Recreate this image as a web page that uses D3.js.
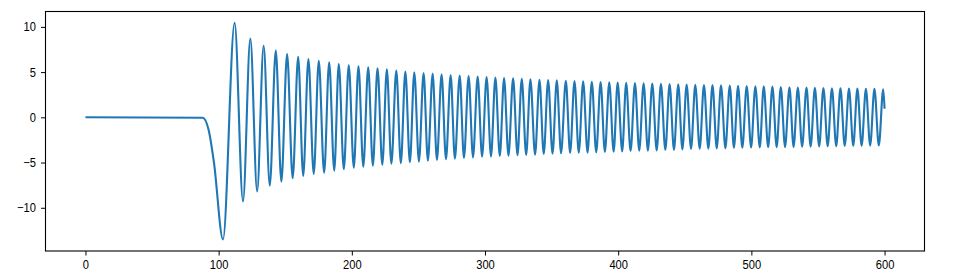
<!DOCTYPE html>
<html>
<head>
<meta charset="utf-8">
<script src="https://cdn.jsdelivr.net/npm/d3@7"></script>
<style>
  body { margin: 0; background: #fff; }
  .tick text { font-family: "Liberation Sans Narrow", "Liberation Sans", sans-serif; font-size: 12.6px; fill: #000; }
</style>
</head>
<body>
<div id="chart"></div>
<script>
  // quiet start and the first dip (x, value)
  var leadX = [0, 88, 92.5, 96.5];
  var leadY = [0, -0.05, -1.4, -5.0];

  // turning points of the oscillation, trough / peak alternating
  var swingX = [103.3, 112.0, 118.3, 123.8, 128.9, 133.8, 138.4, 142.9, 147.1, 151.4,
    155.6, 159.7, 163.5, 167.4, 171.4, 175.2, 179.2, 183.0, 186.8, 190.2,
    194.0, 197.7, 201.5, 205.0, 208.6, 212.3, 215.8, 219.3, 222.9, 226.3,
    229.7, 233.4, 236.8, 240.2, 243.6, 246.9, 250.4, 253.9, 257.1, 260.7,
    263.9, 267.4, 270.7, 274.2, 277.4, 281.0, 284.2, 287.7, 291.0, 294.5,
    297.8, 301.2, 304.5, 307.8, 311.1, 314.3, 317.6, 321.1, 324.4, 327.6,
    330.9, 334.1, 337.6, 340.9, 344.1, 347.4, 350.7, 353.9, 357.1, 360.7,
    363.9, 367.2, 370.4, 373.7, 377.0, 380.2, 383.5, 386.8, 390.0, 393.3,
    396.6, 399.6, 403.0, 406.0, 409.3, 412.6, 415.8, 419.1, 422.3, 425.6,
    428.9, 432.1, 435.4, 438.6, 441.9, 445.1, 448.2, 451.4, 454.7, 457.9,
    461.2, 464.4, 467.7, 470.8, 474.0, 477.2, 480.5, 483.8, 486.9, 490.0,
    493.2, 496.5, 499.8, 503.0, 506.3, 509.3, 512.6, 515.8, 519.0, 522.1,
    525.3, 528.6, 531.7, 534.9, 538.1, 541.4, 544.5, 547.7, 550.9, 554.1,
    557.3, 560.5, 563.7, 566.9, 570.1, 573.3, 576.5, 579.6, 582.8, 586.0,
    589.2, 592.4, 595.7, 599.0];
  var swingY = [-13.5, 10.45, -9.3, 8.72, -8.2, 7.92, -7.55, 7.37, -7.1, 6.99,
    -6.74, 6.7, -6.48, 6.45, -6.26, 6.26, -6.12, 6.08, -5.9, 5.9,
    -5.72, 5.75, -5.57, 5.64, -5.46, 5.53, -5.35, 5.42, -5.24, 5.31,
    -5.14, 5.17, -5.08, 5.06, -4.98, 4.98, -4.9, 4.9, -4.8, 4.83,
    -4.72, 4.75, -4.64, 4.68, -4.57, 4.63, -4.5, 4.57, -4.43, 4.5,
    -4.36, 4.44, -4.33, 4.39, -4.28, 4.35, -4.24, 4.31, -4.2, 4.25,
    -4.16, 4.2, -4.12, 4.16, -4.06, 4.13, -4.02, 4.09, -3.98, 4.05,
    -3.94, 4.02, -3.91, 3.98, -3.9, 3.94, -3.87, 3.91, -3.83, 3.87,
    -3.8, 3.84, -3.76, 3.81, -3.73, 3.79, -3.7, 3.76, -3.68, 3.73,
    -3.65, 3.71, -3.62, 3.68, -3.6, 3.65, -3.55, 3.63, -3.51, 3.6,
    -3.48, 3.58, -3.46, 3.56, -3.43, 3.53, -3.41, 3.5, -3.39, 3.48,
    -3.36, 3.46, -3.33, 3.44, -3.32, 3.42, -3.31, 3.39, -3.3, 3.34,
    -3.29, 3.32, -3.28, 3.3, -3.26, 3.28, -3.24, 3.26, -3.22, 3.24,
    -3.2, 3.22, -3.18, 3.2, -3.17, 3.18, -3.15, 3.17, -3.14, 3.15,
    -3.13, 3.14, -3.11, 3.1];

  // last sample
  var tailX = [600];
  var tailY = [0.95];

  var xTicks = [0, 100, 200, 300, 400, 500, 600];
  var yTicks = [-10, -5, 0, 5, 10];

  // join everything into one list of points
  var allX = leadX.concat(swingX, tailX);
  var allY = leadY.concat(swingY, tailY);
  var points = allX.map(function(x, i) { return { x: x, y: allY[i] }; });

  // canvas and plot box
  var width = 970;
  var height = 280;
  var margin = { top: 11.5, right: 45.5, bottom: 29, left: 45.5 };
  var w = width - margin.left - margin.right;
  var h = height - margin.top - margin.bottom;

  var svg = d3.select('#chart')
    .append('svg')
    .attr('width', width)
    .attr('height', height);

  var g = svg.append('g')
    .attr('transform', 'translate(' + margin.left + ',' + margin.top + ')');

  // matplotlib style limits, 5% padding
  var x = d3.scaleLinear().domain([-30, 630]).range([0, w]);
  var y = d3.scaleLinear().domain([-14.78, 11.7]).range([h, 0]);

  var line = d3.line()
    .x(function(d) { return x(d.x); })
    .y(function(d) { return y(d.y); })
    .curve(d3.curveMonotoneX);

  g.append('path')
    .datum(points)
    .attr('fill', 'none')
    .attr('stroke', '#1f77b4')
    .attr('stroke-width', 2.1)
    .attr('stroke-linejoin', 'round')
    .attr('d', line);

  // axes
  var xAxis = g.append('g')
    .attr('transform', 'translate(0,' + h + ')')
    .call(d3.axisBottom(x).tickValues(xTicks).tickSize(4.5).tickPadding(5).tickFormat(d3.format('d')));

  var yAxis = g.append('g')
    .call(d3.axisLeft(y).tickValues(yTicks).tickSize(4.5).tickPadding(5).tickFormat(function(d) {
      return d < 0 ? '\u2212' + Math.abs(d) : d;
    }));

  [xAxis, yAxis].forEach(function(a) {
    a.select('.domain').remove();
    a.selectAll('.tick line').attr('stroke', '#000').attr('stroke-width', 1);
  });

  // squeeze the labels a bit, the original font is a narrow one
  var squeeze = 0.885;
  xAxis.selectAll('.tick text').attr('transform', 'scale(' + squeeze + ',1)');
  yAxis.selectAll('.tick text').each(function() {
    var t = d3.select(this);
    t.attr('x', +t.attr('x') / squeeze).attr('transform', 'scale(' + squeeze + ',1)');
  });

  // frame around the plot
  g.append('rect')
    .attr('width', w)
    .attr('height', h)
    .attr('fill', 'none')
    .attr('stroke', '#000')
    .attr('stroke-width', 1.1);
</script>
</body>
</html>
